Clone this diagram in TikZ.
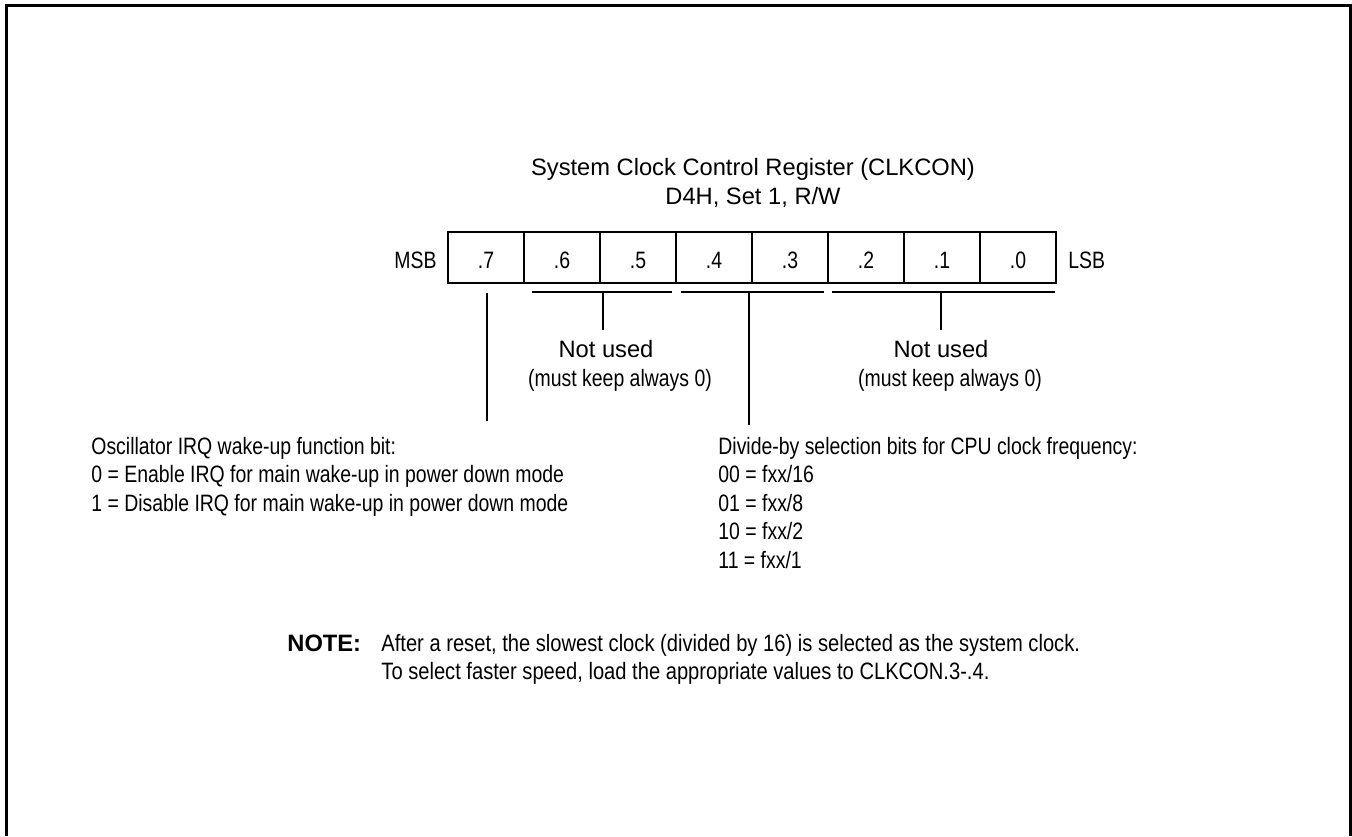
\documentclass[tikz,border=0pt]{standalone}
\usepackage{fontspec}
\setmainfont{Liberation Sans}
\newfontfamily\cnd[FakeStretch=0.82]{Liberation Sans}
\newfontfamily\cndn[FakeStretch=0.85]{Liberation Sans}
\begin{document}
\begin{tikzpicture}[x=0.5pt,y=-0.5pt,
  font=\fontsize{11.85}{14.5}\selectfont,
  frame/.style={line width=1.5pt},
  cell/.style={draw,line width=1pt,minimum width=38pt,minimum height=25.5pt,inner sep=0pt,text height=12pt,text depth=1.5pt},
  brk/.style={line width=1pt},
  lead/.style={line width=0.8pt},
  txt/.style={inner sep=0pt,anchor=base west},
  ctxt/.style={inner sep=0pt,anchor=base},
  cf/.style={font=\fontsize{11.85}{14.5}\cnd},
  nf/.style={font=\fontsize{11.85}{14.5}\cndn}]
\useasboundingbox (0,0) rectangle (1352,836);
\draw[frame] (6,836) -- (6,5) -- (1350.5,5) -- (1350.5,836);
% title
\node[ctxt] (t1) at (753,175) {System Clock Control Register (CLKCON)};
\node[ctxt] (t2) at (753,204) {D4H, Set 1, R/W};
% register cells
\node[cell,cf] (b7) at (486,257.5) {.7};
\node[cell,cf] (b6) at (562,257.5) {.6};
\node[cell,cf] (b5) at (638,257.5) {.5};
\node[cell,cf] (b4) at (714,257.5) {.4};
\node[cell,cf] (b3) at (790,257.5) {.3};
\node[cell,cf] (b2) at (866,257.5) {.2};
\node[cell,cf] (b1) at (942,257.5) {.1};
\node[cell,cf] (b0) at (1018,257.5) {.0};
\node[cf,inner sep=0pt,anchor=base east] (msb) at (437,268) {MSB};
\node[cf,txt] (lsb) at (1068,268) {LSB};
% brackets
\coordinate (u65a) at (532,292); \coordinate (u65b) at (672,292);
\coordinate (u43a) at (681,292); \coordinate (u43b) at (824,292);
\coordinate (u20a) at (832,292); \coordinate (u20b) at (1055,292);
\draw[brk] (u65a) -- (u65b);
\draw[brk] (u43a) -- (u43b);
\draw[brk] (u20a) -- (u20b);
\coordinate (t65) at (603,292); \coordinate (t20) at (941,292);
\coordinate (t43) at (749,292);
\coordinate (s7) at (487,293);
% texts
\node[ctxt] (nu1) at (606,357) {Not used};
\node[ctxt,cf] (nu1b) at (620,386) {(must keep always 0)};
\node[ctxt] (nu2) at (941,357) {Not used};
\node[ctxt,cf] (nu2b) at (950,386) {(must keep always 0)};
\node[txt,cf] (osc) at (91,454) {Oscillator IRQ wake-up function bit:};
\node[txt,cf] (osc0) at (91,482.5) {0 = Enable IRQ for main wake-up in power down mode};
\node[txt,cf] (osc1) at (91,511) {1 = Disable IRQ for main wake-up in power down mode};
\node[txt,cf] (div) at (718,454) {Divide-by selection bits for CPU clock frequency:};
\node[txt,cf] (d00) at (718,482.5) {00 = fxx/16};
\node[txt,cf] (d01) at (718,511) {01 = fxx/8};
\node[txt,cf] (d10) at (718,539.5) {10 = fxx/2};
\node[txt,cf] (d11) at (718,568) {11 = fxx/1};
\node[txt,font=\fontsize{11.85}{14.5}\selectfont\bfseries] (note) at (287,651) {NOTE:};
\node[txt,nf] (n1) at (381,651) {After a reset, the slowest clock (divided by 16) is selected as the system clock.};
\node[txt,nf] (n2) at (381,679) {To select faster speed, load the appropriate values to CLKCON.3-.4.};
% leaders
\draw[lead] (t65) -- (t65 |- 0,330);
\draw[lead] (t20) -- (t20 |- 0,330);
\draw[lead] (s7) -- (s7 |- 0,421);
\draw[lead] (t43) -- (t43 |- 0,425);
\end{tikzpicture}
\end{document}
